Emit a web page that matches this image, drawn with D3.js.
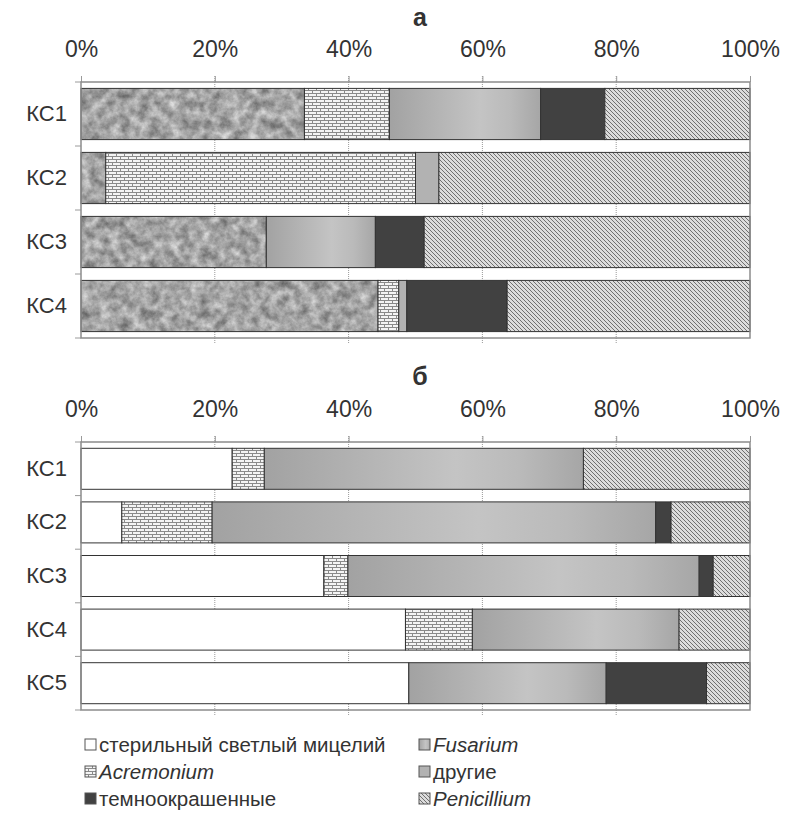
<!DOCTYPE html>
<html><head><meta charset="utf-8">
<script src="https://cdn.jsdelivr.net/npm/d3@7"></script>
<style>body{margin:0;background:#fff}svg{display:block}text{font-family:"Liberation Sans",Arial,sans-serif;fill:#333}</style>
</head><body><div id="c"></div>
<script>
// ---- data ----
const seriesKeys = ["sterile","acremonium","fusarium","others","dark","penicillium"];
const legendLabels = ["стерильный светлый мицелий","Acremonium","Fusarium","другие","темноокрашенные","Penicillium"];
const italicKeys = ["acremonium","fusarium","penicillium"];
const tickValues = [0,20,40,60,80,100];
const tickLabels = ["0%","20%","40%","60%","80%","100%"];

const categoriesA = ["КС1","КС2","КС3","КС4"];
const sterileA     = [33.4, 3.7, 27.7, 44.4];
const acremoniumA  = [12.7, 46.3, 0, 3.1];
const fusariumA    = [22.6, 0, 16.3, 0];
const othersA      = [0, 3.5, 0, 1.2];
const darkA        = [9.6, 0, 7.3, 15.0];
const penicilliumA = [21.7, 46.5, 48.7, 36.3];

const categoriesB = ["КС1","КС2","КС3","КС4","КС5"];
const sterileB     = [22.6, 6.1, 36.3, 48.5, 49.0];
const acremoniumB  = [4.8, 13.5, 3.6, 10.0, 0];
const fusariumB    = [47.7, 66.3, 52.5, 30.9, 29.5];
const othersB      = [0, 0, 0, 0, 0];
const darkB        = [0, 2.3, 2.1, 0, 15.0];
const penicilliumB = [24.9, 11.8, 5.5, 10.6, 6.5];

function rows(cats, s, a, f, o, d, p){
  return cats.map((c,i)=>({cat:c, sterile:s[i], acremonium:a[i], fusarium:f[i], others:o[i], dark:d[i], penicillium:p[i]}));
}
const dataA = rows(categoriesA, sterileA, acremoniumA, fusariumA, othersA, darkA, penicilliumA);
const dataB = rows(categoriesB, sterileB, acremoniumB, fusariumB, othersB, darkB, penicilliumB);

// ---- svg ----
const W=787, H=816;
const svg = d3.select("#c").append("svg").attr("width",W).attr("height",H);
const defs = svg.append("defs");

// granite filter
const gf = defs.append("filter").attr("id","granite").attr("x",0).attr("y",0).attr("width",1).attr("height",1)
  .attr("color-interpolation-filters","sRGB");
gf.append("feTurbulence").attr("type","fractalNoise").attr("baseFrequency","0.1").attr("numOctaves",4).attr("seed",7).attr("result","n");
gf.append("feColorMatrix").attr("in","n").attr("type","matrix")
  .attr("values","0.6 0 0 0 0.34  0.6 0 0 0 0.34  0.6 0 0 0 0.34  0 0 0 0 1").attr("result","g");
gf.append("feComposite").attr("in","g").attr("in2","SourceGraphic").attr("operator","in");

// brick pattern
const bp = defs.append("pattern").attr("id","brick").attr("patternUnits","userSpaceOnUse").attr("width",8).attr("height",6);
bp.append("rect").attr("width",8).attr("height",6).attr("fill","#f4f4f4");
bp.append("path").attr("d","M0,0.5H8M0,3.5H8M0.5,0.5V3.5M4.5,3.5V6.5").attr("stroke","#8a8a8a").attr("stroke-width",1).attr("fill","none");

// hatch pattern
const hp = defs.append("pattern").attr("id","hatch").attr("patternUnits","userSpaceOnUse").attr("width",4).attr("height",4);
hp.append("rect").attr("width",4).attr("height",4).attr("fill","#dcdcdc");
hp.append("path").attr("d","M-1,-1L5,5M-1,3L1,5M3,-1L5,1").attr("stroke","#707070").attr("stroke-width",1);

// fusarium gradient
const fg = defs.append("linearGradient").attr("id","fusGrad").attr("x1",0).attr("x2",1).attr("y1",0).attr("y2",0);
[[0,"#a2a2a2"],[0.6,"#c4c4c4"],[0.8,"#bababa"],[1,"#a6a6a6"]].forEach(([o,c])=>fg.append("stop").attr("offset",o).attr("stop-color",c));

const fills = {sterile:"#ffffff", acremonium:"url(#brick)", fusarium:"url(#fusGrad)", others:"#b2b2b2", dark:"#414141", penicillium:"url(#hatch)"};

const x = d3.scaleLinear().domain([0,100]).range([81,750]);

function drawChart(data, cats, yTop, yBot, pad, title, titleY, granite){
  const g = svg.append("g");
  const y = d3.scaleBand().domain(cats).range([yTop,yBot]).paddingInner(pad).paddingOuter(pad/2);
  g.append("text").attr("x",420).attr("y",titleY).attr("text-anchor","middle")
    .style("font-size","25px").style("font-weight","bold").attr("fill","#2a2a2a").text(title);
  g.selectAll(".grid").data(tickValues.slice(1,-1)).join("line")
    .attr("x1",d=>x(d)).attr("x2",d=>x(d)).attr("y1",yTop-6).attr("y2",yBot+6)
    .attr("stroke","#9a9a9a").attr("stroke-dasharray","1,1");
  const ax = g.append("g").attr("transform",`translate(0,${yTop})`)
    .call(d3.axisTop(x).tickValues(tickValues).tickFormat((d,i)=>tickLabels[i]).tickSize(6).tickPadding(19));
  ax.select(".domain").remove();
  ax.selectAll("line").attr("stroke","#9a9a9a");
  ax.selectAll("text").style("font-size","23px").attr("fill","#333").style("font-family","'Liberation Sans',Arial,sans-serif");
  const ay = g.append("g").attr("transform",`translate(${x(0)},0)`)
    .call(d3.axisLeft(y).tickSize(0).tickPadding(14));
  ay.select(".domain").remove();
  ay.selectAll("text").style("font-size","22px").attr("fill","#333").style("font-family","'Liberation Sans',Arial,sans-serif");
  const bounds = cats.map(c=>y(c)-y.step()*pad/2).concat([yBot]);
  g.selectAll(".bt").data(bounds).join("line")
    .attr("x1",x(0)-6).attr("x2",x(0)).attr("y1",d=>d).attr("y2",d=>d).attr("stroke","#9a9a9a");
  const stacked = d3.stack().keys(seriesKeys)(data);
  stacked.forEach(layer=>{
    const key = layer.key;
    const segs = layer.filter(d=>d[1]-d[0]>0);
    const sel = g.selectAll(null).data(segs).join("rect")
      .attr("x",d=>x(d[0])).attr("width",d=>x(d[1])-x(d[0]))
      .attr("y",d=>y(d.data.cat)).attr("height",y.bandwidth());
    if(key==="sterile" && granite){
      sel.attr("fill","#999").attr("filter","url(#granite)");
      g.selectAll(null).data(segs).join("rect")
        .attr("x",d=>x(d[0])).attr("width",d=>x(d[1])-x(d[0]))
        .attr("y",d=>y(d.data.cat)).attr("height",y.bandwidth())
        .attr("fill","none").attr("stroke","#333").attr("stroke-width",1);
    } else {
      sel.attr("fill",fills[key]).attr("stroke","#333").attr("stroke-width",1);
    }
  });
  g.append("rect").attr("x",x(0)).attr("y",yTop).attr("width",x(100)-x(0)).attr("height",yBot-yTop)
    .attr("fill","none").attr("stroke","#8c8c8c").attr("stroke-width",1.5);
}

drawChart(dataA, categoriesA, 82, 338, 0.2, "а", 26, true);
drawChart(dataB, categoriesB, 442, 710, 0.235, "б", 385, false);

// legend
const legendPos = [[85,0],[85,1],[419,0],[419,1],[85,2],[419,2]];
const lg = svg.append("g");
seriesKeys.forEach((k,i)=>{
  const [lx,row] = legendPos[i];
  const cy = 745 + row*27;
  lg.append("rect").attr("x",lx).attr("y",cy-6).attr("width",11).attr("height",11)
    .attr("fill",fills[k]).attr("stroke","#555").attr("stroke-width",1);
  lg.append("text").attr("x",lx+14).attr("y",cy+6.5)
    .style("font-size","20.5px").style("font-style",italicKeys.includes(k)?"italic":"normal")
    .attr("fill","#333").text(legendLabels[i]);
});
</script></body></html>
